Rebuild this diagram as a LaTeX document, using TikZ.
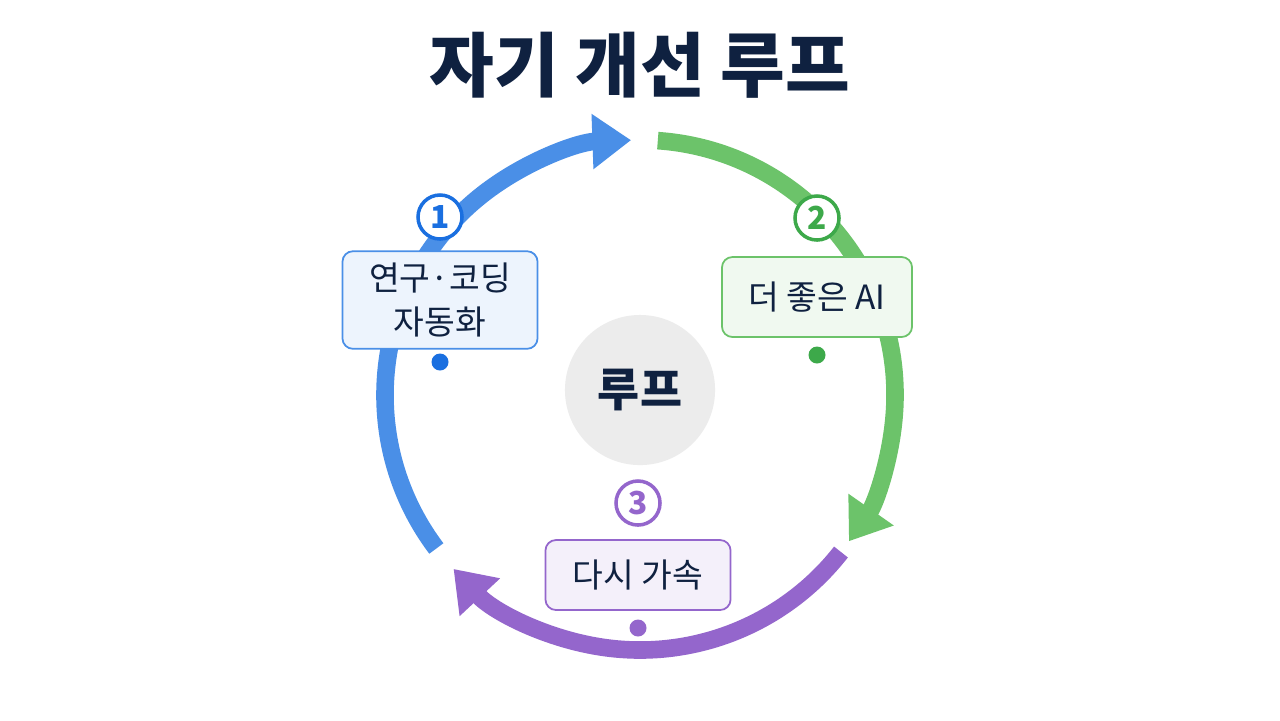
\documentclass[tikz,border=0pt]{standalone}
\usepackage{fontspec}
\setmainfont{Noto Sans CJK KR}
\usepackage{xcolor}
\usetikzlibrary{positioning,arrows.meta}
\definecolor{cblue}{HTML}{4A8FE7}
\definecolor{cdblue}{HTML}{1A6FE0}
\definecolor{cgreen}{HTML}{6CC36A}
\definecolor{cdgreen}{HTML}{3DA94A}
\definecolor{cpurple}{HTML}{9466CC}
\definecolor{ctitle}{HTML}{0F2140}
\tikzset{
  loop arc/.style={line width=5pt, -{Triangle[width=15pt,length=11pt]}},
  step box/.style={draw=#1, fill=#1!10, rounded corners=3pt, line width=0.5pt,
    align=center, font=\fontsize{9.5}{12.5}\selectfont, text=ctitle},
  step num/.style={circle, draw=#1, fill=white, line width=1pt, minimum size=0.44cm,
    inner sep=0pt, text=#1, font=\bfseries\fontsize{9}{9}\selectfont},
  step dot/.style={circle, fill=#1, minimum size=0.17cm, inner sep=0pt}
}
\begin{document}
\begin{tikzpicture}[x=0.01cm, y=-0.01cm]
  \useasboundingbox[fill=white] (0,0) rectangle (1280,720);
  % Title
  \node[font=\bfseries\fontsize{20}{20}\selectfont, text=ctitle] (title) at (640,65) {자기 개선 루프};
  % Arcs (y axis points down, so angles run clockwise on screen)
  \coordinate (c) at (640,395);
  \draw[loop arc, cblue] ([shift={(-217:255)}]c) arc[start angle=-217, end angle=-92, radius=255];
  \draw[loop arc, cgreen] ([shift={(-86:255)}]c) arc[start angle=-86, end angle=35, radius=255];
  \draw[loop arc, cpurple] ([shift={(38:255)}]c) arc[start angle=38, end angle=137, radius=255];
  % Centre
  \node[circle, fill=gray!15, minimum size=1.5cm, font=\bfseries\fontsize{13}{13}\selectfont, text=ctitle] (centre) at (640,390) {루프};
  % Steps
  \node[step box=cblue, minimum width=1.95cm, minimum height=0.9cm] (b1) at (440,300) {연구·코딩\\자동화};
  \node[step num=cdblue] (n1) at (440,217) {1};
  \node[step dot=cdblue] (d1) at (440,362) {};
  \node[step box=cgreen, minimum width=1.9cm, minimum height=0.8cm] (b2) at (817,297) {더 좋은 AI};
  \node[step num=cdgreen] (n2) at (817,218) {2};
  \node[step dot=cdgreen] (d2) at (817,355) {};
  \node[step box=cpurple, minimum width=1.85cm, minimum height=0.7cm] (b3) at (638,575) {다시 가속};
  \node[step num=cpurple] (n3) at (638,503) {3};
  \node[step dot=cpurple] (d3) at (638,628) {};
\end{tikzpicture}
\end{document}
